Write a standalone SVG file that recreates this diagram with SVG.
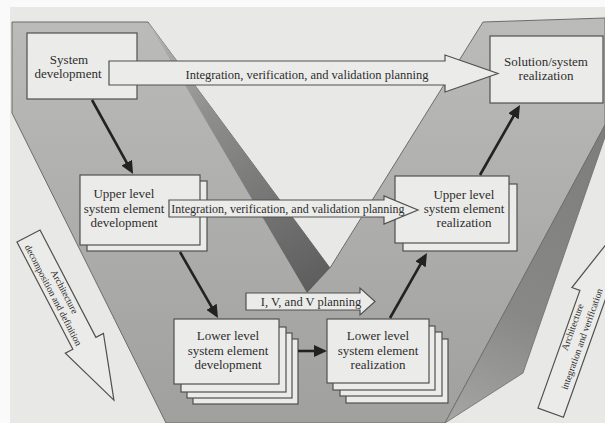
<svg xmlns="http://www.w3.org/2000/svg" width="605" height="423" viewBox="0 0 605 423">
  <defs>
    <linearGradient id="gFront" x1="0" y1="0" x2="0" y2="1">
      <stop offset="0" stop-color="#bbbbb9"/>
      <stop offset="1" stop-color="#a0a09f"/>
    </linearGradient>
    <linearGradient id="gStrip" gradientUnits="userSpaceOnUse" x1="150" y1="25" x2="315" y2="285">
      <stop offset="0" stop-color="#b4b4b2"/>
      <stop offset="0.35" stop-color="#8e8e8d"/>
      <stop offset="1" stop-color="#5e5e5e"/>
    </linearGradient>
    <linearGradient id="gSide" gradientUnits="userSpaceOnUse" x1="600" y1="140" x2="450" y2="420">
      <stop offset="0" stop-color="#7e7e7d"/>
      <stop offset="0.6" stop-color="#888887"/>
      <stop offset="1" stop-color="#a5a5a4"/>
    </linearGradient>
    <marker id="ah" markerUnits="userSpaceOnUse" markerWidth="14" markerHeight="12" refX="3" refY="6" orient="auto">
      <path d="M0,0 L13,6 L0,12 z" fill="#222"/>
    </marker>
  </defs>
  <style>
    .box { fill: #ebebe9; stroke: #505050; stroke-width: 1.2; }
    .blk { fill: #ebebe9; stroke: #505050; stroke-width: 1.2; }
    .lbl { font-family: "Liberation Serif", "Times New Roman", serif; font-size: 13px; fill: #2d2d2d; text-anchor: middle; }
    .albl { font-family: "Liberation Serif", "Times New Roman", serif; fill: #2d2d2d; text-anchor: middle; }
    .conn { stroke: #222; stroke-width: 2.6; fill: none; marker-end: url(#ah); }
  </style>

  <!-- page background -->
  <rect x="0" y="0" width="605" height="423" fill="#fafafa"/>
  <rect x="10" y="7" width="595" height="416" fill="#e8e8e6"/>

  <!-- V shape -->
  <g id="v-shape">
    <polygon points="12,22 148,22 330,268 483,22 605,18 605,125 445,423 166,423 12,113" fill="url(#gFront)" stroke="#6c6c6c" stroke-width="1"/>
    <polygon points="148,22 330,268 307,293" fill="url(#gStrip)"/>
    <polygon points="605,125 605,137 523,373 445,423" fill="url(#gSide)" stroke="#6c6c6c" stroke-width="0.8"/>
  </g>

  <!-- side arrows -->
  <g id="arrow-decomposition" transform="translate(28.5,236) rotate(62.5)">
    <polygon class="blk" points="0,-13 121,-13 121,-21.5 185,0 121,21.5 121,13 0,13"/>
    <text class="albl" font-size="9.6" x="66" y="-3">Architecture</text>
    <text class="albl" font-size="9.6" x="64" y="8.5">decomposition and definition</text>
  </g>
  <g id="arrow-integration" transform="translate(550.7,412.7) rotate(-70.4)">
    <polygon class="blk" points="0,-13.5 125,-13.5 125,-22 190,0 125,22 125,13.5 0,13.5"/>
    <text class="albl" font-size="9.8" x="88" y="-5">Architecture</text>
    <text class="albl" font-size="9.8" x="80" y="8">integration and verification</text>
  </g>

  <!-- nodes -->
  <g id="node-system-development">
    <rect class="box" x="27" y="33" width="110" height="66"/>
    <text class="lbl" x="69" y="63.5">System</text>
    <text class="lbl" x="68" y="78">development</text>
  </g>

  <g id="node-solution-realization">
    <rect class="box" x="490" y="36" width="113" height="67"/>
    <text class="lbl" x="546" y="66">Solution/system</text>
    <text class="lbl" x="546" y="80">realization</text>
  </g>

  <g id="node-upper-development">
    <rect class="box" x="87" y="181" width="120" height="70"/>
    <rect class="box" x="80" y="175" width="120" height="70"/>
    <text class="lbl" x="124" y="198">Upper level</text>
    <text class="lbl" x="124" y="213">system element</text>
    <text class="lbl" x="124" y="227">development</text>
  </g>

  <g id="node-upper-realization">
    <rect class="box" x="403" y="184" width="114" height="67"/>
    <rect class="box" x="395" y="176" width="114" height="67"/>
    <text class="lbl" x="464" y="199">Upper level</text>
    <text class="lbl" x="464" y="213">system element</text>
    <text class="lbl" x="464" y="227">realization</text>
  </g>

  <g id="node-lower-development">
    <rect class="box" x="193" y="339" width="105" height="65"/>
    <rect class="box" x="187" y="333" width="105" height="65"/>
    <rect class="box" x="181" y="327" width="105" height="65"/>
    <rect class="box" x="174" y="319" width="105" height="65"/>
    <text class="lbl" x="228" y="340">Lower level</text>
    <text class="lbl" x="228" y="355">system element</text>
    <text class="lbl" x="228" y="369">development</text>
  </g>

  <g id="node-lower-realization">
    <rect class="box" x="346" y="339" width="102" height="64"/>
    <rect class="box" x="340" y="332" width="102" height="64"/>
    <rect class="box" x="333" y="326" width="102" height="64"/>
    <rect class="box" x="327" y="319" width="102" height="64"/>
    <text class="lbl" x="378" y="340">Lower level</text>
    <text class="lbl" x="378" y="355">system element</text>
    <text class="lbl" x="378" y="369">realization</text>
  </g>

  <!-- connectors -->
  <g id="connectors">
    <line class="conn" x1="92" y1="100" x2="128.2" y2="165.3"/>
    <line class="conn" x1="180" y1="252" x2="213" y2="309.4"/>
    <line class="conn" x1="298" y1="351" x2="317" y2="351" stroke-width="4"/>
    <line class="conn" x1="390" y1="318" x2="422" y2="261.7"/>
    <line class="conn" x1="480" y1="175" x2="515" y2="113.7"/>
  </g>

  <!-- planning block arrows -->
  <g id="arrow-ivv-top">
    <polygon class="blk" points="109,61 445,61 445,55 498,73.5 445,92 445,85 109,85"/>
    <text class="albl" font-size="12.5" x="307" y="79">Integration, verification, and validation planning</text>
  </g>
  <g id="arrow-ivv-middle">
    <polygon class="blk" points="169,200 384,200 384,196 418,210 384,224 384,217 169,217"/>
    <text class="albl" font-size="12" x="288" y="213">Integration, verification, and validation planning</text>
  </g>
  <g id="arrow-ivv-lower">
    <polygon class="blk" points="246,293 360,293 360,288 375,301.5 360,315 360,310 246,310"/>
    <text class="albl" font-size="12.5" x="311" y="306">I, V, and V planning</text>
  </g>
</svg>
